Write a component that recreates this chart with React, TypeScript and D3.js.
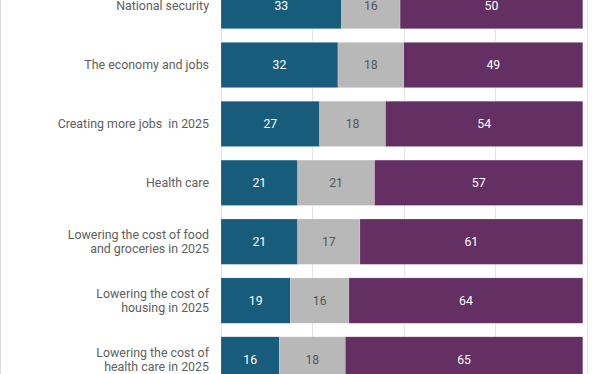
import React, { useEffect, useRef } from 'react';
import * as d3 from 'd3';

const categories = [
  ['National security'],
  ['The economy and jobs'],
  ['Creating more jobs  in 2025'],
  ['Health care'],
  ['Lowering the cost of food', 'and groceries in 2025'],
  ['Lowering the cost of', 'housing in 2025'],
  ['Lowering the cost of', 'health care in 2025'],
];
const series1 = [33, 32, 27, 21, 21, 19, 16];
const series2 = [16, 18, 18, 21, 17, 16, 18];
const series3 = [50, 49, 54, 57, 61, 64, 65];
const gridTicks = [0, 25, 50, 75, 100];

const colors = ['#175c7b', '#b8b8b8', '#642f62'];
const textColors = ['#ffffff', '#555555', '#ffffff'];

const App = () => {
  const svgRef = useRef<SVGSVGElement>(null);
  const width = 612;
  const height = 374;

  useEffect(() => {
    const svg = d3.select(svgRef.current);
    svg.selectAll('*').remove();

    const keys = categories.map((c, i) => String(i));
    const rows = keys.map((k, i) => ({ key: k, v: [series1[i], series2[i], series3[i]] }));

    const x = d3.scaleLinear().domain([0, 100]).range([221, 586.5]);
    const step = 58.9;
    const pad = 0.23;
    const r0 = -16.6 - pad * step;
    const y = d3.scaleBand()
      .domain(keys)
      .range([r0, r0 + step * (keys.length + pad)])
      .paddingInner(pad)
      .paddingOuter(pad);

    // left border
    svg.append('line')
      .attr('x1', 0.5).attr('x2', 0.5)
      .attr('y1', 0).attr('y2', height)
      .attr('stroke', '#dddddd');

    // grid
    svg.append('g')
      .selectAll('line')
      .data(gridTicks)
      .enter()
      .append('line')
      .attr('x1', d => Math.round(x(d)) + 0.5)
      .attr('x2', d => Math.round(x(d)) + 0.5)
      .attr('y1', 0)
      .attr('y2', height)
      .attr('stroke', '#e3e3e3');

    // bars
    rows.forEach(row => {
      let acc = 0;
      row.v.forEach((val, j) => {
        const x0 = x(acc);
        const x1 = x(acc + val);
        acc += val;
        svg.append('rect')
          .attr('x', x0)
          .attr('y', y(row.key)!)
          .attr('width', x1 - x0)
          .attr('height', y.bandwidth())
          .attr('fill', colors[j])
          .attr('stroke', '#ffffff')
          .attr('stroke-opacity', 0.4)
          .attr('stroke-width', 0.5);
        svg.append('text')
          .attr('x', (x0 + x1) / 2)
          .attr('y', y(row.key)! + y.bandwidth() / 2)
          .attr('dy', '0.35em')
          .attr('text-anchor', 'middle')
          .attr('fill', textColors[j])
          .style('font-family', 'Roboto, sans-serif')
          .style('font-size', '12.3px')
          .text(val);
      });
    });

    // category labels
    keys.forEach((k, i) => {
      const lines = categories[i];
      const cy = y(k)! + y.bandwidth() / 2;
      const t = svg.append('text')
        .attr('text-anchor', 'end')
        .attr('fill', '#606060')
        .style('font-family', 'Roboto, sans-serif')
        .style('font-size', '12.4px')
        .style('white-space', 'pre');
      lines.forEach((ln, li) => {
        t.append('tspan')
          .attr('x', 209)
          .attr('y', cy + (li - (lines.length - 1) / 2) * 14)
          .attr('dy', '0.35em')
          .text(ln);
      });
    });
  }, []);

  return (
    <svg
      ref={svgRef}
      width={width}
      height={height}
      style={{ position: 'absolute', left: 0, top: 0, background: '#ffffff' }}
    ></svg>
  );
};

export default App;
